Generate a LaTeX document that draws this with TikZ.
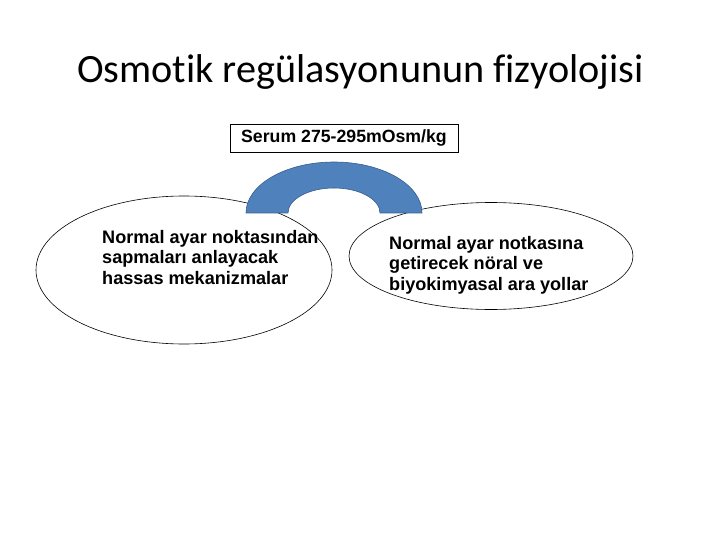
\documentclass[tikz,border=0pt]{standalone}
\usepackage{fontspec}
\setmainfont{Liberation Sans}
\newfontfamily\titlefont[Ligatures=NoCommon]{Carlito}
\usetikzlibrary{shapes.geometric}
\definecolor{archblue}{RGB}{79,129,189}
\definecolor{archedge}{RGB}{56,93,138}

\tikzstyle{oval}=[ellipse,draw,line width=0.6pt,fill=white,inner sep=0pt]
\tikzstyle{ovaltext}=[align=left,font=\bfseries\fontsize{18.1}{20.5}\selectfont,inner sep=0pt]
\tikzstyle{serumbox}=[draw,line width=0.8pt,minimum width=228pt,minimum height=28pt,inner sep=0pt,font=\bfseries\fontsize{17.7}{20}\selectfont]

\begin{document}
\begin{tikzpicture}[x=1pt,y=-1pt]
        \useasboundingbox (0,0) rectangle (720,540);
        \draw (360.5,83) node[anchor=base,font=\titlefont\fontsize{40.2}{46}\selectfont](title){Osmotik regülasyonunun fizyolojisi};
        \draw (344,138) node[serumbox](serum){Serum 275-295mOsm/kg};
        %
        \draw (184,270) node[oval,minimum width=296pt,minimum height=148pt](sense){};
        \draw (491,256) node[oval,minimum width=284pt,minimum height=107pt](restore){};
        \draw (102,230) node[ovaltext,anchor=north west](sensetext){Normal ayar noktasından\\sapmaları anlayacak\\hassas mekanizmalar};
        \draw (389,236) node[ovaltext,anchor=north west](restoretext){Normal ayar notkasına\\getirecek nöral ve\\biyokimyasal ara yollar};
        %
        \draw[fill=archblue,draw=archedge,line width=0.6pt] (246,213)
            arc[start angle=180,end angle=360,x radius=88,y radius=51] -- (380,213)
            arc[start angle=0,end angle=-180,x radius=46,y radius=25] -- cycle;
\end{tikzpicture}
\end{document}
